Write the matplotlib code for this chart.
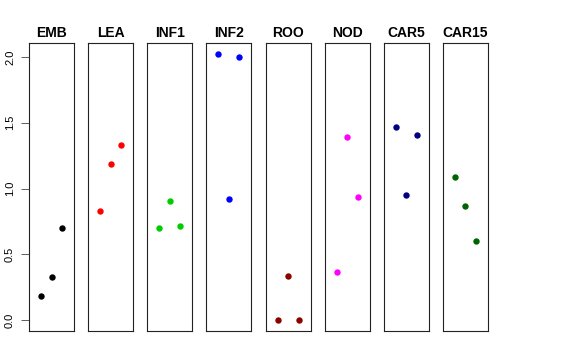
import numpy as np
import matplotlib
matplotlib.use("Agg")
import matplotlib.pyplot as plt

plt.rcParams['font.family'] = ['Liberation Sans', 'DejaVu Sans']

# tissues and their three replicate values
tissues = ["EMB", "LEA", "INF1", "INF2", "ROO", "NOD", "CAR5", "CAR15"]
colors = ["black", "red", "#00CD00", "blue", "#8B0000", "magenta", "#000080", "#006400"]
emb = [0.187, 0.327, 0.703]
lea = [0.830, 1.187, 1.331]
inf1 = [0.703, 0.906, 0.716]
inf2 = [2.024, 0.923, 2.000]
roo = [0.0, 0.334, 0.0]
nod = [0.364, 1.394, 0.939]
car5 = [1.470, 0.949, 1.409]
car15 = [1.088, 0.870, 0.600]
values = [emb, lea, inf1, inf2, roo, nod, car5, car15]
reps = [1, 2, 3]
yticks = [0.0, 0.5, 1.0, 1.5, 2.0]

W, H = 576, 360
fig = plt.figure(figsize=(W / 100, H / 100), dpi=100)

ymin, ymax = 0.0, 2.024
yext = (ymax - ymin) * 0.04

for i, (name, col, vals) in enumerate(zip(tissues, colors, values)):
    left = 29 + i * 59.14
    ax = fig.add_axes([left / W, 1 - 331 / H, 45 / W, 288 / H])
    ax.plot(reps, vals, "o", color=col, markersize=4.6, markeredgewidth=0)
    ax.set_xlim(2 - 2.15, 2 + 2.15)
    ax.set_ylim(ymin - yext, ymax + yext)
    ax.set_xticks([])
    for s in ax.spines.values():
        s.set_linewidth(0.8)
        s.set_color("#222222")
    ax.set_title(name, fontsize=10, fontweight="bold", pad=4.5)
    if i == 0:
        ax.set_yticks(yticks)
        ax.set_yticklabels(["%.1f" % t for t in yticks], rotation=90,
                           va="center", fontsize=8)
        ax.tick_params(axis="y", length=5.5, width=0.6, pad=4.5, color="#444444")
    else:
        ax.set_yticks([])

fig.savefig("out.png", dpi=100)
